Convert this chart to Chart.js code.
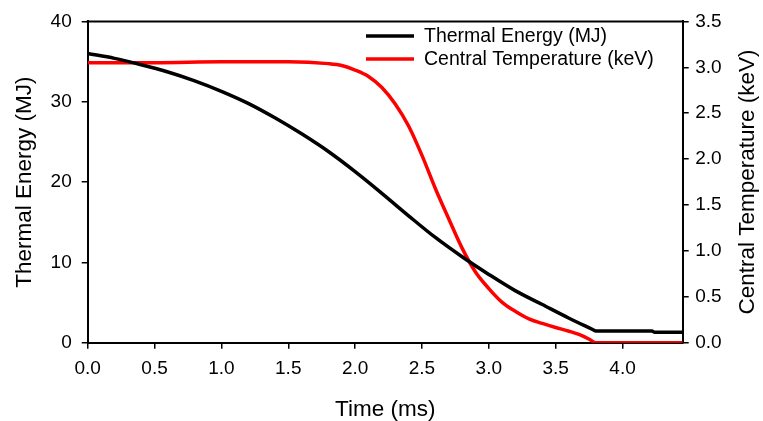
<!DOCTYPE html>
<html>
<head>
<meta charset="utf-8">
<script src="https://cdn.jsdelivr.net/npm/chart.js@4.4.0/dist/chart.umd.min.js"></script>
<style>
  html, body { margin: 0; padding: 0; background: #fff; }
  #wrap { position: relative; width: 763px; height: 421px; }
</style>
</head>
<body>
<div id="wrap"><canvas id="chart"></canvas></div>
<script>
// ---- data ----
const timeE  = [0, 0.2, 0.4, 0.6, 0.8, 1.0, 1.2, 1.4, 1.6, 1.8, 2.0, 2.2, 2.4, 2.6, 2.8, 3.0, 3.2, 3.4, 3.6, 3.78, 3.80, 4.22, 4.24, 4.45];
const energy = [36.0, 35.4, 34.6, 33.7, 32.6, 31.3, 29.8, 28.0, 26.0, 23.8, 21.3, 18.6, 15.8, 13.1, 10.7, 8.5, 6.45, 4.75, 3.05, 1.61, 1.45, 1.45, 1.3, 1.3];

const timeT = [0, 0.5, 1.0, 1.5, 1.8, 1.9, 2.0, 2.1, 2.2, 2.3, 2.4, 2.5, 2.6, 2.7, 2.8, 2.9, 3.0, 3.1, 3.2, 3.3, 3.4, 3.5, 3.6, 3.7, 3.76, 3.80, 4.45];
const temp  = [3.05, 3.05, 3.06, 3.06, 3.04, 3.02, 2.97, 2.90, 2.78, 2.60, 2.36, 2.04, 1.68, 1.35, 1.03, 0.77, 0.59, 0.44, 0.34, 0.26, 0.21, 0.165, 0.125, 0.075, 0.03, 0, 0];

const xTicks = [0, 0.5, 1.0, 1.5, 2.0, 2.5, 3.0, 3.5, 4.0];
const eTicks = [0, 10, 20, 30, 40];
const tTicks = [0, 0.5, 1.0, 1.5, 2.0, 2.5, 3.0, 3.5];

const seriesNames = ['Thermal Energy (MJ)', 'Central Temperature (keV)'];
const seriesColors = ['#000000', '#ff0000'];

const FONT = "'Liberation Sans', Arial, sans-serif";

const toXY = (xs, ys) => xs.map((x, i) => ({ x: x, y: ys[i] }));

// frame on top + custom legend + right title (reads bottom to top)
const extras = {
    id: 'extras',
    afterDraw(chart) {
        const { ctx, chartArea: a } = chart;
        ctx.save();
        // top border of the box
        ctx.strokeStyle = '#000';
        ctx.lineWidth = 2;
        ctx.beginPath();
        ctx.moveTo(a.left - 1, a.top);
        ctx.lineTo(a.right + 1, a.top);
        ctx.stroke();

        // legend
        ctx.font = '19.5px ' + FONT;
        ctx.textBaseline = 'middle';
        ctx.textAlign = 'left';
        seriesNames.forEach((name, i) => {
            const y = 36 + i * 23;
            ctx.strokeStyle = seriesColors[i];
            ctx.lineWidth = 3.5;
            ctx.beginPath();
            ctx.moveTo(366, y);
            ctx.lineTo(414, y);
            ctx.stroke();
            ctx.fillStyle = '#000';
            ctx.fillText(name, 424, y + 1);
        });

        // right axis title
        ctx.translate(748, (a.top + a.bottom) / 2);
        ctx.rotate(-Math.PI / 2);
        ctx.textAlign = 'center';
        ctx.font = '22.5px ' + FONT;
        ctx.fillText('Central Temperature (keV)', 0, 0);
        ctx.restore();
    }
};

const axisCommon = {
    border: { display: true, color: '#000', width: 2 },
    grid: { display: true, drawOnChartArea: false, drawTicks: true, tickLength: 6, color: '#000', lineWidth: 1.5 },
    ticks: { color: '#000', font: { family: FONT, size: 19 } }
};

new Chart(document.getElementById('chart'), {
    type: 'line',
    data: {
        datasets: [
            {
                label: seriesNames[0],
                data: toXY(timeE, energy),
                yAxisID: 'y',
                borderColor: seriesColors[0],
                borderWidth: 3.5,
                pointRadius: 0,
                cubicInterpolationMode: 'monotone',
                fill: false
            },
            {
                label: seriesNames[1],
                data: toXY(timeT, temp),
                yAxisID: 'y1',
                borderColor: seriesColors[1],
                borderWidth: 3.5,
                pointRadius: 0,
                cubicInterpolationMode: 'monotone',
                fill: false
            }
        ]
    },
    options: {
        responsive: true,
        maintainAspectRatio: false,
        animation: false,
        layout: { padding: { top: 17.3, left: 0, right: 0, bottom: 0 } },
        plugins: {
            legend: { display: false },
            tooltip: { enabled: false }
        },
        scales: {
            x: {
                type: 'linear',
                min: 0,
                max: 4.45,
                ...axisCommon,
                ticks: { ...axisCommon.ticks, padding: 9, maxRotation: 0, callback: v => v.toFixed(1) },
                afterBuildTicks: s => { s.ticks = xTicks.map(v => ({ value: v })); },
                afterFit: s => { s.height = 78.3; },
                title: { display: true, text: 'Time (ms)', color: '#000', font: { family: FONT, size: 22.5, lineHeight: 1 }, padding: { top: 0, bottom: 0 } }
            },
            y: {
                type: 'linear',
                position: 'left',
                min: 0,
                max: 40,
                ...axisCommon,
                ticks: { ...axisCommon.ticks, padding: 10 },
                afterBuildTicks: s => { s.ticks = eTicks.map(v => ({ value: v })); },
                afterFit: s => { s.width = 87.7; },
                title: { display: true, text: 'Thermal Energy (MJ)', color: '#000', font: { family: FONT, size: 22.5, lineHeight: 1 }, padding: { top: 14, bottom: 0 } }
            },
            y1: {
                type: 'linear',
                position: 'right',
                min: 0,
                max: 3.5,
                ...axisCommon,
                ticks: { ...axisCommon.ticks, padding: 6.5, callback: v => v.toFixed(1) },
                afterBuildTicks: s => { s.ticks = tTicks.map(v => ({ value: v })); },
                afterFit: s => { s.width = 80.3; }
            }
        }
    },
    plugins: [extras]
});
</script>
</body>
</html>
